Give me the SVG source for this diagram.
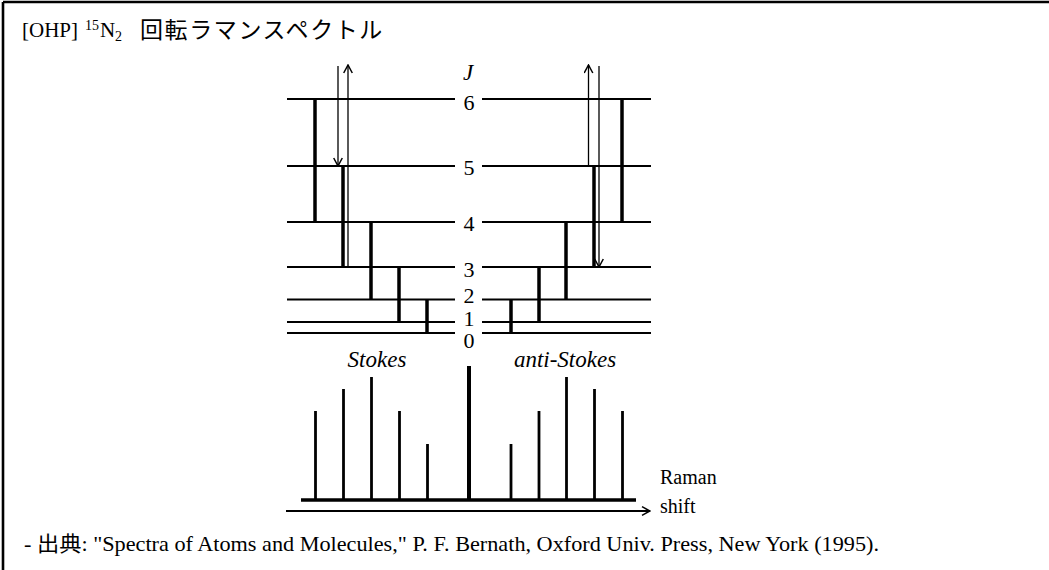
<svg xmlns="http://www.w3.org/2000/svg" width="1049" height="570" viewBox="0 0 1049 570">
<style>
.t{font-family:"Liberation Serif","Times New Roman",serif;fill:#000}
.jp{font-family:"Liberation Serif","Noto Sans CJK JP",serif}
.lvl{stroke:#000;stroke-width:2;fill:none}
.tr{stroke:#000;stroke-width:3.5;fill:none}
.ph{stroke:#000;stroke-width:1.3;fill:none}
.pk{stroke:#000;stroke-width:2.8;fill:none}
.num{font-family:"Liberation Serif","Times New Roman",serif;font-size:22px;text-anchor:middle}
.it{font-family:"Liberation Serif","Times New Roman",serif;font-style:italic;font-size:23px;text-anchor:middle}
</style>
<defs>
<marker id="ah" viewBox="0 0 10 10" refX="9" refY="5" markerWidth="10" markerHeight="10" markerUnits="userSpaceOnUse" orient="auto">
<path d="M1,0.7 L9,5 L1,9.3" fill="none" stroke="#000" stroke-width="1.5"/>
</marker>
</defs>
<rect width="1049" height="570" fill="#fff"/>
<g id="frame" stroke="#000" stroke-width="2.6" fill="none">
<line x1="3" y1="2" x2="1049" y2="2"/>
<line x1="3" y1="2" x2="3" y2="570"/>
</g>
<g id="title">
<text class="t" x="22" y="37" font-size="21">[OHP]</text>
<text class="t" x="85" y="30" font-size="14">15</text>
<text class="t" x="100" y="37" font-size="21">N</text>
<text class="t" x="115" y="41" font-size="14">2</text>
<text x="140" y="38" font-size="23" letter-spacing="1.6" font-family="'Noto Sans CJK JP',sans-serif">回転ラマンスペクトル</text>
</g>
<g id="levels">
<line class="lvl" x1="287" y1="99" x2="455" y2="99"/><line class="lvl" x1="482" y1="99" x2="651" y2="99"/>
<line class="lvl" x1="287" y1="166" x2="455" y2="166"/><line class="lvl" x1="482" y1="166" x2="651" y2="166"/>
<line class="lvl" x1="287" y1="222" x2="455" y2="222"/><line class="lvl" x1="482" y1="222" x2="651" y2="222"/>
<line class="lvl" x1="287" y1="267" x2="455" y2="267"/><line class="lvl" x1="482" y1="267" x2="651" y2="267"/>
<line class="lvl" x1="287" y1="299.5" x2="455" y2="299.5"/><line class="lvl" x1="482" y1="299.5" x2="651" y2="299.5"/>
<line class="lvl" x1="287" y1="322" x2="455" y2="322"/><line class="lvl" x1="482" y1="322" x2="651" y2="322"/>
<line class="lvl" x1="287" y1="333" x2="455" y2="333"/><line class="lvl" x1="482" y1="333" x2="651" y2="333"/>
</g>
<g id="level-labels">
<text class="it" x="468" y="80" font-size="22">J</text>
<text class="num" x="469" y="110">6</text>
<text class="num" x="469" y="175">5</text>
<text class="num" x="469" y="231">4</text>
<text class="num" x="469" y="277">3</text>
<text class="num" x="469" y="303">2</text>
<text class="num" x="469" y="326">1</text>
<text class="num" x="469" y="348">0</text>
</g>
<g id="connectors">
<line class="tr" x1="315" y1="99" x2="315" y2="222"/>
<line class="tr" x1="343" y1="166" x2="343" y2="267"/>
<line class="tr" x1="371" y1="222" x2="371" y2="299.5"/>
<line class="tr" x1="399" y1="267" x2="399" y2="322"/>
<line class="tr" x1="427" y1="299.5" x2="427" y2="333"/>
<line class="tr" x1="511" y1="299.5" x2="511" y2="333"/>
<line class="tr" x1="539" y1="267" x2="539" y2="322"/>
<line class="tr" x1="566" y1="222" x2="566" y2="299.5"/>
<line class="tr" x1="594" y1="166" x2="594" y2="267"/>
<line class="tr" x1="622" y1="99" x2="622" y2="222"/>
<line class="ph" x1="338" y1="66" x2="338" y2="166" marker-end="url(#ah)"/>
<line class="ph" x1="348" y1="267" x2="348" y2="65" marker-end="url(#ah)"/>
<line class="ph" x1="588.5" y1="166" x2="588.5" y2="65" marker-end="url(#ah)"/>
<line class="ph" x1="599" y1="66" x2="599" y2="267" marker-end="url(#ah)"/>
</g>
<g id="branch-labels">
<text class="it" x="377" y="367">Stokes</text>
<text class="it" x="565" y="367">anti-Stokes</text>
</g>
<g id="spectrum">
<line x1="301" y1="500" x2="636" y2="500" stroke="#000" stroke-width="3.5"/>
<line class="pk" x1="315.5" y1="500" x2="315.5" y2="411"/>
<line class="pk" x1="343.5" y1="500" x2="343.5" y2="389"/>
<line class="pk" x1="371.5" y1="500" x2="371.5" y2="377"/>
<line class="pk" x1="399.5" y1="500" x2="399.5" y2="411"/>
<line class="pk" x1="427.5" y1="500" x2="427.5" y2="444"/>
<line x1="469" y1="500" x2="469" y2="366" stroke="#000" stroke-width="4"/>
<line class="pk" x1="511" y1="500" x2="511" y2="444"/>
<line class="pk" x1="539" y1="500" x2="539" y2="411"/>
<line class="pk" x1="566.5" y1="500" x2="566.5" y2="377"/>
<line class="pk" x1="594.5" y1="500" x2="594.5" y2="389"/>
<line class="pk" x1="622.5" y1="500" x2="622.5" y2="411"/>
<line x1="286" y1="511" x2="650" y2="511" stroke="#000" stroke-width="1.8" marker-end="url(#ah)"/>
<text class="t" x="660" y="484" font-size="20">Raman</text>
<text class="t" x="660" y="513" font-size="20">shift</text>
</g>
<g id="footer">
<text class="jp" x="24" y="551" font-size="21" textLength="855" lengthAdjust="spacingAndGlyphs">- 出典: "Spectra of Atoms and Molecules," P. F. Bernath, Oxford Univ. Press, New York (1995).</text>
</g>
</svg>
